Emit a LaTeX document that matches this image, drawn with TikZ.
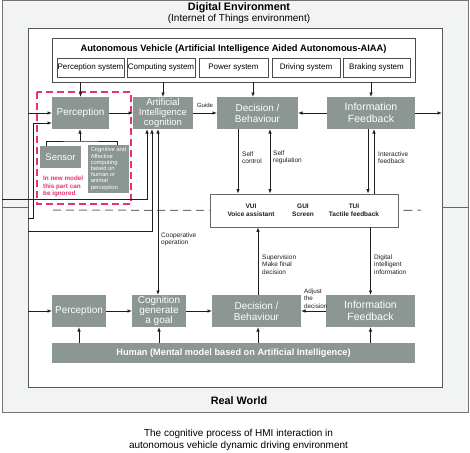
\documentclass[tikz,border=0pt]{standalone}
\usepackage{fontspec}
\setmainfont{Liberation Sans}
\usetikzlibrary{arrows.meta}

\definecolor{boxgray}{HTML}{8C9692}
\definecolor{framegray}{HTML}{F2F3F3}
\definecolor{notered}{HTML}{E8326A}
\definecolor{linedark}{HTML}{1E1E1E}

\begin{document}
\begin{tikzpicture}[x=1pt, y=-1pt,
  gray node/.style={fill=boxgray, text=white, inner sep=0pt, outer sep=0pt, minimum height=32pt, align=center, font=\fontsize{10}{11}\selectfont},
  system node/.style={draw=black!70, line width=0.9pt, fill=white, inner sep=0pt, outer sep=0pt, minimum height=19pt, font=\fontsize{8}{9}\selectfont},
  note node/.style={inner sep=0pt, anchor=west, align=left, text=linedark, font=\fontsize{6.5}{7.3}\selectfont},
  flow/.style={draw=linedark, line width=0.8pt, -{Latex[length=4.5pt,width=3.5pt]}},
  both flow/.style={draw=linedark, line width=0.8pt, {Latex[length=4.5pt,width=3.5pt]}-{Latex[length=4.5pt,width=3.5pt]}},
  plain line/.style={draw=linedark, line width=0.8pt}]

  \useasboundingbox (0,0) rectangle (470,452);
  \draw[draw=black!55, fill=framegray, line width=1pt] (2,1) rectangle (468,412);
  \draw[draw=black!65, fill=white, line width=0.9pt] (28,28) rectangle (442,387);
  \draw[draw=black!60, line width=0.8pt] (2,207) -- (28,207) (442,207) -- (468,207);

  \node[font=\bfseries\fontsize{10.8}{12}\selectfont] (digital) at (239,8) {Digital Environment};
  \node[font=\fontsize{10}{12}\selectfont] (iot) at (239,19) {(Internet of Things environment)};
  \node[font=\bfseries\fontsize{10.8}{12}\selectfont] (real) at (239,401) {Real World};
  \node[font=\fontsize{10}{11.5}\selectfont, align=center] (caption) at (238.5,440) {The cognitive process of HMI interaction in\\autonomous vehicle dynamic driving environment};

  % vehicle
  \node[draw=black!70, line width=0.9pt, minimum width=363pt, minimum height=44pt, inner sep=0pt] (vehicle) at (233.5,60) {};
  \node[font=\bfseries\fontsize{9.3}{10}\selectfont] (vehtitle) at (233.5,49) {Autonomous Vehicle (Artificial Intelligence Aided Autonomous-AIAA)};
  \node[system node, minimum width=67pt] (psys) at (90.5,67.5) {Perception system};
  \node[system node, minimum width=68pt] (csys) at (161,67.5) {Computing system};
  \node[system node, minimum width=69pt] (wsys) at (233.5,67.5) {Power system};
  \node[system node, minimum width=68pt] (dsys) at (306,67.5) {Driving system};
  \node[system node, minimum width=67pt] (bsys) at (376.5,67.5) {Braking system};

  % part that can be ignored
  \draw[draw=notered, line width=1.3pt, dash pattern=on 7pt off 4pt] (37,92) rectangle (131,204);
  \node[note node, text=notered, font=\bfseries\fontsize{6.3}{7.5}\selectfont] (ignore) at (43,186.5) {In new model\\this part can\\be ignored};

  % upper row
  \node[gray node, minimum width=57pt] (perc) at (80.5,113) {Perception};
  \node[gray node, minimum width=60pt, font=\fontsize{9.5}{10}\selectfont] (ai) at (163,113) {Artificial\\Intelligence\\cognition};
  \node[gray node, minimum width=81pt] (dec) at (257.5,113) {Decision /\\Behaviour};
  \node[gray node, minimum width=88pt, font=\fontsize{10.5}{12}\selectfont] (info) at (371,113) {Information\\Feedback};
  \node[gray node, minimum width=41pt, minimum height=22pt, font=\fontsize{9.5}{10}\selectfont] (sensor) at (60.5,157) {Sensor};
  \node[gray node, minimum width=41pt, minimum height=48pt, align=left, font=\fontsize{5.8}{6.2}\selectfont] (affect) at (108.5,169) {Cognitive and\\Affective\\computing\\based on\\human or\\animal\\perception};

  % interfaces
  \node[draw=black!60, line width=0.8pt, fill=white, minimum width=188pt, minimum height=33pt, inner sep=0pt] (vui) at (304,210.5) {};
  \node[font=\bfseries\fontsize{6.5}{8}\selectfont, align=center, text=linedark] (vuitxt) at (251,210) {VUI\\Voice assistant};
  \node[font=\bfseries\fontsize{6.5}{8}\selectfont, align=center, text=linedark] (guitxt) at (303,210) {GUI\\Screen};
  \node[font=\bfseries\fontsize{6.5}{8}\selectfont, align=center, text=linedark] (tuitxt) at (354,210) {TUI\\Tactile feedback};

  % lower row
  \node[gray node, minimum width=54pt] (lperc) at (79,311) {Perception};
  \node[gray node, minimum width=54pt, font=\fontsize{10}{10}\selectfont] (cogn) at (159,311) {Cognition\\generate\\a goal};
  \node[gray node, minimum width=89pt] (ldec) at (256.5,311) {Decision /\\Behaviour};
  \node[gray node, minimum width=89pt, font=\fontsize{10.5}{12}\selectfont] (linfo) at (370.5,311) {Information\\Feedback};
  \node[gray node, minimum width=363pt, minimum height=20pt, font=\bfseries\fontsize{9.2}{10}\selectfont] (human) at (233.5,353) {Human (Mental model based on Artificial Intelligence)};

  \coordinate (inA) at (28,113);
  \coordinate (inB) at (28,218);
  \coordinate (outC) at (2,199);
  \coordinate (inD) at (28,231);
  \coordinate (inE) at (28,311);
  \coordinate (inR) at (442,113);
  \coordinate (dashL) at (53,210);
  \coordinate (dashR) at (421,210);
  \coordinate (brk) at (80,141);

  \draw[draw=black!55, line width=1pt, dash pattern=on 8pt off 5pt] (dashL) -- (vui.west);
  \draw[draw=black!55, line width=1pt, dash pattern=on 9pt off 5pt] ([xshift=5pt]vui.east) -- (dashR);

  \draw[flow] (vehicle.south -| perc.north) -- (perc.north);
  \draw[flow] (vehicle.south -| ai.north) -- (ai.north);
  \draw[flow] ([xshift=-4.5pt]vehicle.south -| dec.north) -- ([xshift=-4.5pt]dec.north);
  \draw[flow] (vehicle.south -| info.north) -- (info.north);

  \path (perc) [flow] edge (ai);
  \path (ai) [flow] edge (dec);
  \path (info) [flow] edge (dec);
  \draw[flow] (info.east) -- (inR);
  \node[note node, anchor=center, font=\fontsize{6}{7}\selectfont] (guide) at (205,105) {Guide};

  \draw[flow] (inA) -- (perc.west);
  \draw[flow] (inB) -- ++(5,0) |- ([yshift=6pt]perc.south west);
  \draw[flow] (outC) -| ([xshift=14pt]ai.south west);
  \draw[flow] (inD) -| ([xshift=19pt]ai.south west);

  \draw[plain line] ([xshift=6pt]sensor.north west) |- (brk) -| ([xshift=29pt]affect.north west);
  \draw[flow] (brk) -- (brk |- perc.south);

  \coordinate (selfc) at ([xshift=21pt]dec.south west);
  \coordinate (selfr) at ([xshift=53pt]dec.south west);
  \coordinate (infodn) at ([xshift=41pt]info.south west);
  \coordinate (infoup) at ([xshift=47pt]info.south west);
  \coordinate (coop) at ([xshift=25pt]ai.south west);
  \draw[flow] (selfc) -- (selfc |- vui.north);
  \draw[both flow] (selfr) -- (selfr |- vui.north);
  \draw[flow] (infodn) -- (infodn |- vui.north);
  \draw[flow] (infoup |- vui.north) -- (infoup);
  \draw[both flow] (coop) -- (coop |- cogn.north);
  \draw[flow] ([xshift=1.5pt]ldec.north) -- ([xshift=1.5pt]ldec.north |- vui.south);
  \draw[flow] (linfo.north |- vui.south) -- (linfo.north);

  \node[note node] (selfctl) at (242,157.5) {Self\\control};
  \node[note node] (selfreg) at (273,157.5) {Self\\regulation};
  \node[note node] (interact) at (378,157.5) {Interactive\\feedback};
  \node[note node] (cooper) at (161,239) {Cooperative\\operation};
  \node[note node] (superv) at (262,264.5) {Supervision\\Make final\\decision};
  \node[note node] (digit) at (374,264.5) {Digital\\intelligent\\information};
  \node[note node, font=\fontsize{6.3}{7.3}\selectfont] (adjust) at (304,298.5) {Adjust\\the\\decision};

  \draw[flow] (inE) -- (lperc.west);
  \path (lperc) [flow] edge (cogn);
  \path (cogn) [flow] edge (ldec);
  \path (linfo) [flow] edge (ldec);
  \draw[flow] (human.north -| lperc.south) -- (lperc.south);
  \draw[flow] (human.north -| cogn.south) -- (cogn.south);
  \draw[flow] ([xshift=1.5pt]human.north -| ldec.south) -- ([xshift=1.5pt]ldec.south);
  \draw[flow] (human.north -| linfo.south) -- (linfo.south);
\end{tikzpicture}
\end{document}
